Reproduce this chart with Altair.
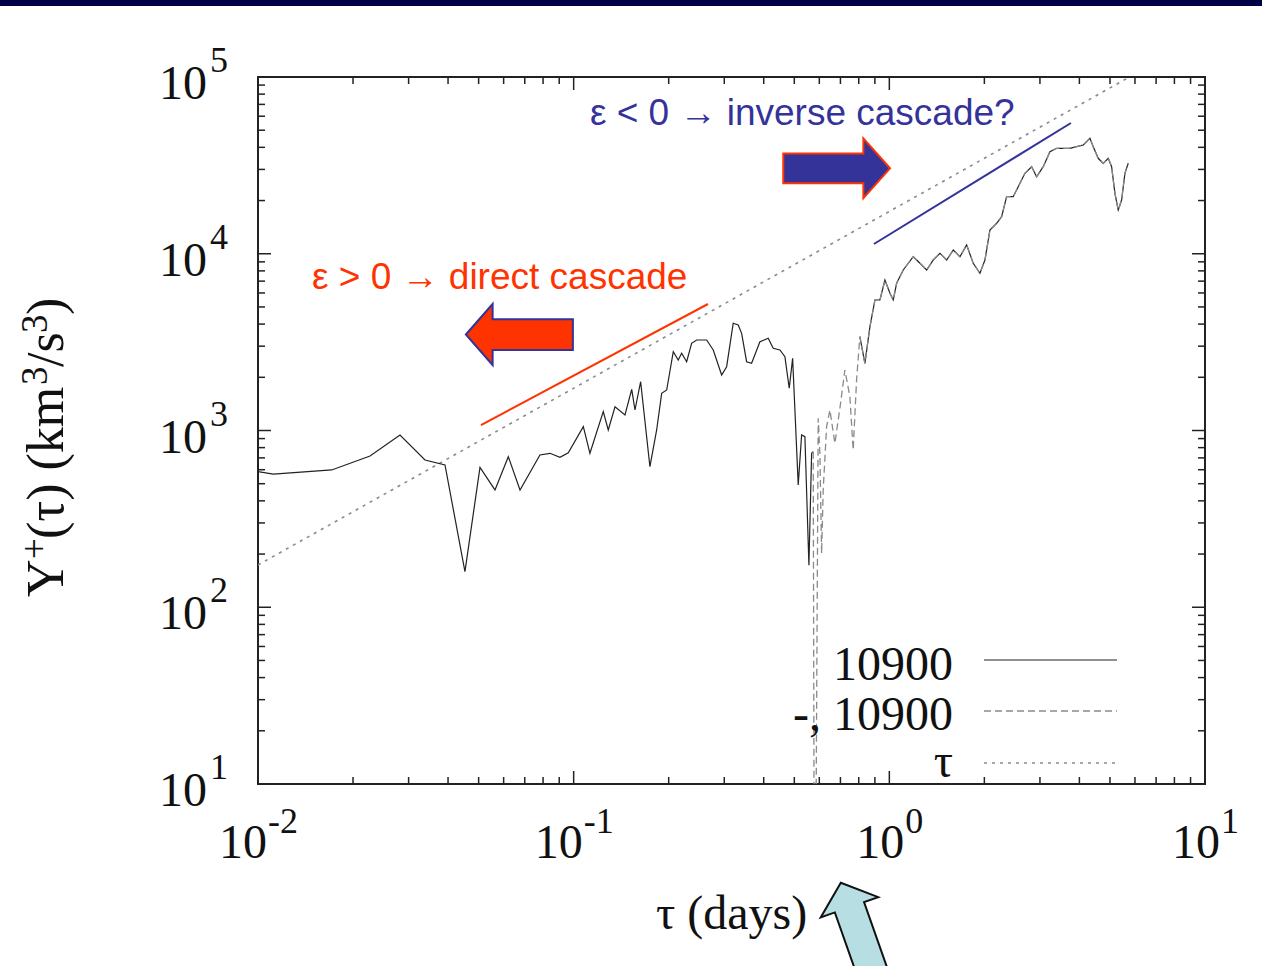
import altair as alt
import pandas as pd

W, H = 947, 707
SERIF = "Liberation Serif"
SANS = "Liberation Sans"
AX = "#222222"
RED = "#FF3300"
BLUE = "#333399"

# ---- Y+(tau) for run 10900 -------------------------------------------------
# positive branch, small lags
tau_a = [0.0100, 0.01118, 0.01712, 0.02264, 0.02817, 0.03381, 0.03912, 0.04525, 0.05049, 0.05633,
         0.06208, 0.06761, 0.07818, 0.08412, 0.09049, 0.09614, 0.1073, 0.1126, 0.1241, 0.1287,
         0.1352, 0.1454, 0.1527, 0.1564, 0.1630, 0.1744, 0.1832, 0.1900, 0.1971, 0.2068,
         0.2144, 0.2198, 0.2280, 0.2364, 0.2452, 0.2638, 0.2768, 0.2943, 0.3052, 0.3202,
         0.3321, 0.3405, 0.3531, 0.3662, 0.3891, 0.4134, 0.4287, 0.4502, 0.4669, 0.4818,
         0.4939, 0.5145, 0.5274, 0.5402, 0.5562, 0.5673, 0.5739]
y_a = [585, 567, 598, 717, 943, 681, 638, 159, 618, 461,
       711, 461, 727, 743, 705, 749, 1051, 743, 1278, 1007,
       1363, 1224, 1710, 1306, 1888, 624, 1007, 1623, 1695, 2792,
       2505, 2734, 2450, 3114, 3251, 3251, 2854, 2061, 2296, 4042,
       3954, 3546, 2450, 2400, 3180, 3324, 2918, 2854, 2615, 1733,
       2561, 492, 943, 922, 173, 743, 759]

# sign-changing stretch (|Y| shown dashed)
tau_b = [0.5739, 0.5781, 0.5845, 0.5952, 0.6026, 0.6102, 0.6173, 0.6328, 0.6482, 0.6722,
         0.6972, 0.7231, 0.7499, 0.7682, 0.7875, 0.8066]
y_b = [759, 3, 3, 1172, 743, 202, 461, 1051, 1306, 846,
       1335, 2199, 1553, 776, 1931, 3395]

# large lags
tau_c = [0.8367, 0.8681, 0.9004, 0.9337, 0.9684, 1.0044, 1.0288, 1.0547, 1.1066, 1.1907,
         1.2503, 1.3130, 1.3777, 1.4467, 1.5191, 1.5940, 1.6738, 1.7576, 1.8444, 1.9367,
         2.0086, 2.0831, 2.1874, 2.2685, 2.3527, 2.4687, 2.5603, 2.6887, 2.8234, 2.9283,
         3.0727, 3.2266, 3.3882, 3.5553, 3.7334, 3.9204, 4.1139, 4.3199, 4.4251, 4.5894,
         4.7598, 4.9366, 5.0605, 5.1838, 5.3100, 5.4433, 5.5758, 5.7117]
y_c = [2400, 3867, 5474, 5474, 7104, 5973, 5474, 6804, 8091, 9623,
       8831, 8091, 9218, 10059, 9218, 10501, 9623, 11207, 8831, 7751,
       9218, 13625, 14871, 16203, 21021, 21021, 23950, 28519, 31080, 27283,
       31080, 37790, 39495, 39495, 39495, 40330, 41235, 44995, 40330, 34677,
       32486, 34677, 31080, 21973, 17682, 20142, 28519, 32486]

# linear reference Y ~ tau
tau_ref = [0.01, 10.0]
y_ref = [173.5, 173500.0]

# slope guides
tau_red = [0.05086, 0.2664]
y_red = [1074, 5196]
tau_blue = [0.8938, 3.761]
y_blue = [11355, 54925]

# axis decades
x_exps = ["-2", "-1", "0", "1"]
y_exps = ["1", "2", "3", "4", "5"]

xscale = alt.Scale(type="log", domain=[0.01, 10], nice=False)
yscale = alt.Scale(type="log", domain=[10, 100000], nice=False)
X = alt.X("tau:Q", scale=xscale, axis=None)
Y = alt.Y("y:Q", scale=yscale, axis=None)

one = pd.DataFrame({"k": [0]})

solid = pd.DataFrame({
    "tau": tau_a + [tau_b[-1]] + tau_c,
    "y": y_a + [y_b[-1]] + y_c,
    "seg": ["a"] * len(tau_a) + ["b"] * (1 + len(tau_c)),
})
dashed = pd.DataFrame({"tau": tau_b + tau_c, "y": y_b + y_c})
ref = pd.DataFrame({"tau": tau_ref, "y": y_ref})

layers = []

# navy band across the top of the page
layers.append(alt.Chart(one).mark_rect(color="#000044").encode(
    x=alt.value(-258), x2=alt.value(1004), y=alt.value(-77), y2=alt.value(-71)))

# curves
layers.append(alt.Chart(ref).mark_line(color="#8a8a8a", strokeDash=[3, 5], strokeWidth=1.6, clip=True)
              .encode(x=X, y=Y))
layers.append(alt.Chart(solid).mark_line(color="#222222", strokeWidth=1.2, clip=True)
              .encode(x=X, y=Y, detail="seg:N"))
layers.append(alt.Chart(dashed).mark_line(color="#8a8a8a", strokeDash=[7, 4], strokeWidth=1.3, clip=True)
              .encode(x=X, y=Y))
layers.append(alt.Chart(pd.DataFrame({"tau": tau_red, "y": y_red}))
              .mark_line(color=RED, strokeWidth=2).encode(x=X, y=Y))
layers.append(alt.Chart(pd.DataFrame({"tau": tau_blue, "y": y_blue}))
              .mark_line(color=BLUE, strokeWidth=2).encode(x=X, y=Y))

# inward ticks on all four sides
def decade_ticks(lo_exp, hi_exp):
    major, minor = [], []
    for e in range(lo_exp, hi_exp + 1):
        major.append(10.0 ** e)
        if e < hi_exp:
            minor += [m * 10.0 ** e for m in range(2, 10)]
    return major, minor

xmaj, xmin = decade_ticks(-2, 1)
ymaj, ymin = decade_ticks(1, 5)
for vals, ln in ((xmaj, 13), (xmin, 7)):
    d = alt.Chart(pd.DataFrame({"tau": vals})).mark_rule(color=AX, strokeWidth=1.5)
    layers.append(d.encode(x=X, y=alt.value(H), y2=alt.value(H - ln)))
    layers.append(d.encode(x=X, y=alt.value(0), y2=alt.value(ln)))
for vals, ln in ((ymaj, 13), (ymin, 7)):
    d = alt.Chart(pd.DataFrame({"y": vals})).mark_rule(color=AX, strokeWidth=1.5)
    layers.append(d.encode(y=Y, x=alt.value(0), x2=alt.value(ln)))
    layers.append(d.encode(y=Y, x=alt.value(W), x2=alt.value(W - ln)))

# x tick labels 10^n
xl = pd.DataFrame({"tau": xmaj, "exp": x_exps})
for cond, shift in (("length(datum.exp) == 2", 9), ("length(datum.exp) == 1", 15)):
    base = alt.Chart(xl).transform_filter(cond)
    layers.append(base.mark_text(text="10", font=SERIF, fontSize=48, align="right",
                                 baseline="alphabetic", dx=shift, color="#111")
                  .encode(x=X, y=alt.value(H + 74)))
    layers.append(base.mark_text(font=SERIF, fontSize=36, align="left",
                                 baseline="alphabetic", dx=shift + 1, color="#111")
                  .encode(x=X, y=alt.value(H + 49), text="exp:N"))

# y tick labels 10^n
yl = pd.DataFrame({"y": ymaj, "exp": y_exps})
layers.append(alt.Chart(yl).mark_text(text="10", font=SERIF, fontSize=48, align="right",
                                      baseline="alphabetic", dy=22, color="#111")
              .encode(x=alt.value(-51), y=Y))
layers.append(alt.Chart(yl).mark_text(font=SERIF, fontSize=36, align="left",
                                      baseline="alphabetic", dy=-5, color="#111")
              .encode(x=alt.value(-48), y=Y, text="exp:N"))

# axis titles
layers.append(alt.Chart(one).mark_text(text="τ (days)", font=SERIF, fontSize=48, align="center",
                                       baseline="alphabetic", color="#111")
              .encode(x=alt.value(W / 2), y=alt.value(H + 145)))

ytitle = [("Y", 520, 52, -195), ("+", 482, 37, -211), ("(τ) (km", 462, 52, -195),
          ("3", 308, 37, -211), ("/s", 290, 52, -195), ("3", 256, 37, -211), (")", 238, 52, -195)]
for txt, py, fs, px in ytitle:
    layers.append(alt.Chart(one).mark_text(text=txt, font=SERIF, fontSize=fs, angle=270,
                                           align="left", baseline="alphabetic", color="#111")
                  .encode(x=alt.value(px), y=alt.value(py)))

# key
key = [("10900", "#222222", [1, 0], 1.2, 603, 583),
       ("-, 10900", "#8a8a8a", [7, 4], 1.3, 653, 634),
       ("τ", "#8a8a8a", [3, 5], 1.6, 700, 686)]
for label, col, dash, sw, ty, ly in key:
    layers.append(alt.Chart(one).mark_text(text=label, font=SERIF, fontSize=48, align="right",
                                           baseline="alphabetic", color="#111")
                  .encode(x=alt.value(695), y=alt.value(ty)))
    layers.append(alt.Chart(one).mark_rule(color=col, strokeDash=dash, strokeWidth=sw)
                  .encode(x=alt.value(726), x2=alt.value(859), y=alt.value(ly)))

# cascade annotations
notes = pd.DataFrame({"tau": [0.01483, 0.1126], "y": [6319, 53512],
                      "txt": ["ε > 0 → direct cascade", "ε < 0 → inverse cascade?"],
                      "col": [RED, BLUE]})
layers.append(alt.Chart(notes).mark_text(font=SANS, fontSize=37, align="left", baseline="alphabetic")
              .encode(x=X, y=Y, text="txt:N", color=alt.Color("col:N", scale=None)))

LEFT_ARROW = "M-1,0L-0.5,-0.57L-0.5,-0.285L1,-0.285L1,0.29L-0.5,0.29L-0.5,0.57Z"
RIGHT_ARROW = "M-1,-0.28L0.5,-0.28L0.5,-0.56L1,0L0.5,0.56L0.5,0.28L-1,0.28Z"
UP_ARROW = "M0,-0.917L0.508,-0.483L0.258,-0.483L0.258,1.2L-0.258,1.2L-0.258,-0.483L-0.508,-0.483Z"

layers.append(alt.Chart(pd.DataFrame({"tau": [0.0673], "y": [3493]}))
              .mark_point(shape=LEFT_ARROW, size=11449, filled=True, fill=RED, stroke=BLUE,
                          strokeWidth=2, opacity=1).encode(x=X, y=Y))
layers.append(alt.Chart(pd.DataFrame({"tau": [0.681], "y": [30420]}))
              .mark_point(shape=RIGHT_ARROW, size=11400, filled=True, fill=BLUE, stroke=RED,
                          strokeWidth=2, opacity=1).encode(x=X, y=Y))
layers.append(alt.Chart(pd.DataFrame({"tau": [0.802], "y": [1.406]}))
              .mark_point(shape=UP_ARROW, size=14400, angle=340.6, filled=True, fill="#B7DFE3",
                          stroke="#111", strokeWidth=2, opacity=1).encode(x=X, y=Y))

chart = (alt.layer(*layers)
         .properties(width=W, height=H, autosize="none", background="white",
                     padding={"left": 258, "top": 77, "right": 57, "bottom": 182})
         .configure_view(stroke=AX, strokeWidth=2))

chart.save("out.html", embed_options={"renderer": "svg", "actions": False})
